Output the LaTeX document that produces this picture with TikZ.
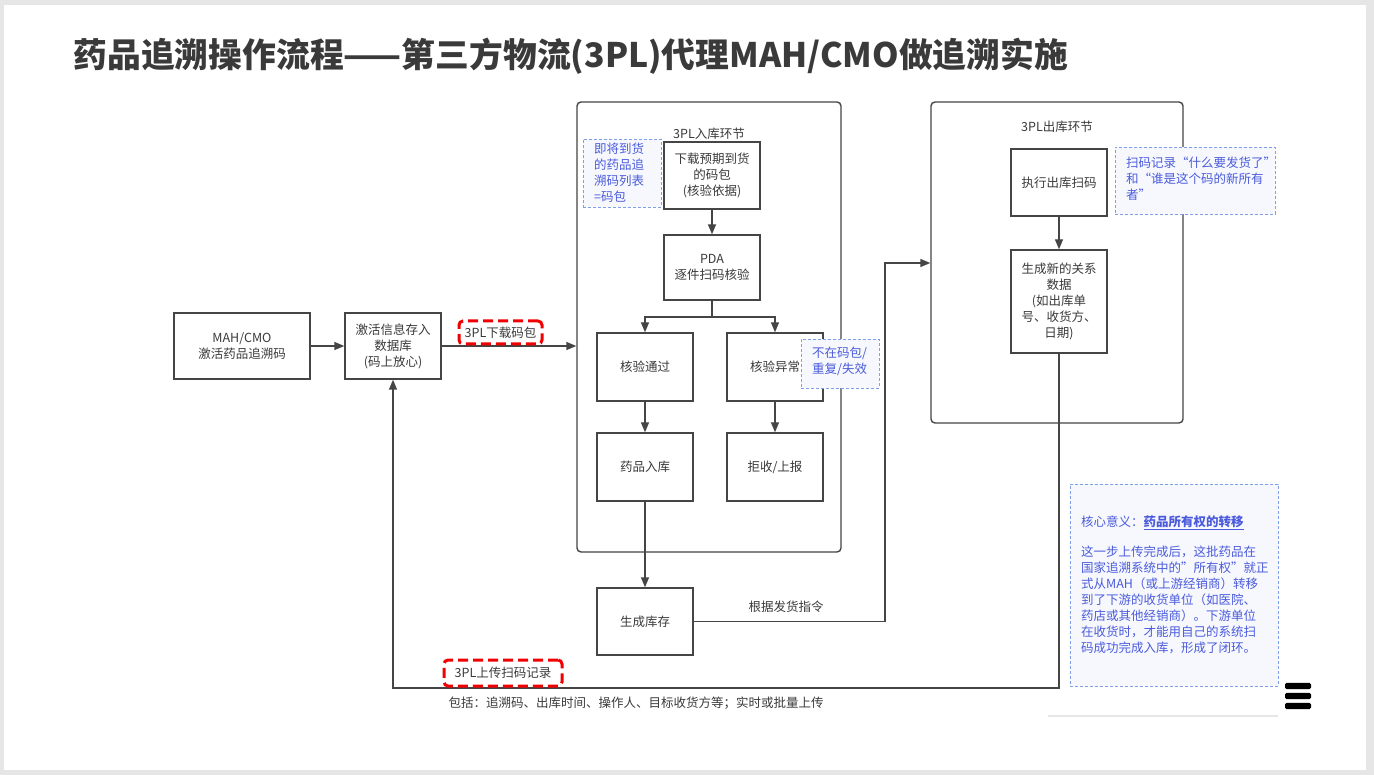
\documentclass[tikz,border=0pt]{standalone}
\usepackage{fontspec}
\setmainfont{Noto Sans CJK SC}
\usetikzlibrary{arrows.meta}
\definecolor{pagegray}{HTML}{E6E6E6}
\definecolor{ink}{HTML}{3A3A3A}
\definecolor{boxline}{HTML}{454545}
\definecolor{notetext}{HTML}{4B5BDB}
\definecolor{noteline}{HTML}{7FA0E6}
\definecolor{notefill}{HTML}{F6F8FE}
\definecolor{tagred}{HTML}{F00000}
\tikzset{
  x=1pt, y=-1pt,
  txt/.style={font=\fontsize{12.5}{16}\selectfont, text=ink},
  stepbox/.style={txt, draw=boxline, line width=1.4pt, fill=white, align=center, inner sep=2pt},
  stage/.style={draw=boxline, line width=1.4pt, rounded corners=4pt},
  note/.style={draw=noteline, line width=0.9pt, dash pattern=on 3pt off 2pt, fill=notefill, inner sep=0pt},
  notetxt/.style={text=notetext, font=\fontsize{12.5}{16}\selectfont, align=left, inner sep=0pt},
  tag/.style={txt, draw=tagred, line width=3pt, dash pattern=on 10pt off 5pt, rounded corners=4pt,
    fill=white, inner sep=2pt},
  arr/.style={draw=boxline, line width=1.4pt, -{Triangle[length=10pt,width=8pt]}},
  link/.style={draw=boxline, line width=1.4pt},
}
\begin{document}
\begin{tikzpicture}
% page
\fill[pagegray] (0,0) rectangle (1374,775);
\fill[white] (4,5) rectangle (1366,770);
\useasboundingbox (0,0) rectangle (1374,775);

% heading
\node[anchor=west, text=ink, font=\fontsize{33.8}{36}\selectfont\bfseries] (title) at (70,56)
  {药品追溯操作流程——第三方物流(3PL)代理MAH/CMO做追溯实施};

% stage frames
\node[stage, minimum width=264pt, minimum height=450pt] (inb) at (709,327) {};
\node[stage, minimum width=252pt, minimum height=321pt] (outb) at (1057,262.5) {};
\node[txt] (inbt) at (709,134) {3PL入库环节};
\node[txt] (outbt) at (1057,127) {3PL出库环节};

% source side
\node[stepbox, minimum width=136pt, minimum height=66pt] (mah) at (242,346) {MAH/CMO\\激活药品追溯码};
\node[stepbox, minimum width=96pt, minimum height=66pt] (db) at (393,346) {激活信息存入\\数据库\\(码上放心)};

% inbound steps
\node[stepbox, minimum width=96pt, minimum height=67pt] (dl) at (712,175.5) {下载预期到货\\的码包\\(核验依据)};
\node[stepbox, minimum width=96pt, minimum height=65pt] (pda) at (712,267.5) {PDA\\逐件扫码核验};
\node[stepbox, minimum width=96pt, minimum height=68pt] (pass) at (645,367) {核验通过};
\node[stepbox, minimum width=96pt, minimum height=68pt] (abn) at (775,367) {核验异常};
\node[stepbox, minimum width=96pt, minimum height=68pt] (instk) at (645,467) {药品入库};
\node[stepbox, minimum width=96pt, minimum height=68pt] (rej) at (775,467) {拒收/上报};
\node[stepbox, minimum width=96pt, minimum height=67pt] (stk) at (645,621.5) {生成库存};

% outbound steps
\node[stepbox, minimum width=96pt, minimum height=67pt] (scan) at (1059,182.5) {执行出库扫码};
\node[stepbox, minimum width=96pt, minimum height=103pt] (rel) at (1059,301.5) {生成新的关系\\数据\\(如出库单\\号、收货方、\\日期)};

% side notes
\node[note, minimum width=78pt, minimum height=68pt] (n1) at (622,173) {};
\node[notetxt, anchor=north west] (n1t) at (594,143) {即将到货\\的药品追\\溯码列表\\=码包};
\node[note, minimum width=78pt, minimum height=49pt] (n2) at (840,363.5) {};
\node[notetxt, anchor=north west] (n2t) at (812,347) {不在码包/\\重复/失效};
\node[note, minimum width=160pt, minimum height=67pt] (n3) at (1195,180.5) {};
\node[notetxt, anchor=north west] (n3t) at (1126,157) {扫码记录“什么要发货了”\\和“谁是这个码的新所有\\者”};
\node[note, minimum width=208pt, minimum height=202pt] (n4) at (1174,585) {};
\node[notetxt, anchor=west] (n4h) at (1081,523) {核心意义：\textbf{\underline{药品所有权的转移}}};
\node[notetxt, anchor=north west, font=\fontsize{12.5}{15.9}\selectfont] (n4b) at (1081,546)
  {这一步上传完成后，这批药品在\\国家追溯系统中的\symbol{34}所有权\symbol{34}就正\\式从MAH（或上游经销商）转移\\到了下游的收货单位（如医院、\\药店或其他经销商）。下游单位\\在收货时，才能用自己的系统扫\\码成功完成入库，形成了闭环。};

% connectors
\coordinate (br) at (712,317);
\coordinate (c1) at (885,621.5);
\coordinate (c2) at (885,263);
\coordinate (c3) at (1059,688);
\coordinate (c4) at (393,688);
\draw[arr] (mah) -- (db);
\draw[arr] (db.east) -- (db.east -| inb.west);
\draw[arr] (dl) -- (pda);
\draw[link] (pda.south) -- (br);
\draw[arr] (br) -| (pass.north);
\draw[arr] (br) -| (abn.north);
\draw[arr] (pass) -- (instk);
\draw[arr] (abn) -- (rej);
\draw[arr] (instk) -- (stk);
\draw[arr] (stk.east) -- (c1) -- (c2) -- (c2 -| outb.west);
\draw[arr] (scan) -- (rel);
\draw[arr] (rel.south) -- (c3) -- (c4) -- (db.south);

% connector labels
\node[tag, minimum width=83pt, minimum height=23pt] (t1) at (500.5,332.5) {3PL下载码包};
\node[tag, minimum width=118pt, minimum height=26pt] (t2) at (503,673) {3PL上传扫码记录};
\node[txt] (l1) at (786,607) {根据发货指令};
\node[txt] (l2) at (636,703) {包括：追溯码、出库时间、操作人、目标收货方等；实时或批量上传};

% footer rule and menu icon
\draw[pagegray, line width=2pt] (1048,716) -- (1278,716);
\foreach \yy [count=\i] in {686,696,706}
  \fill[black, rounded corners=1.5pt] (1285,\yy-3.2) rectangle (1311,\yy+3.2);
\end{tikzpicture}
\end{document}
